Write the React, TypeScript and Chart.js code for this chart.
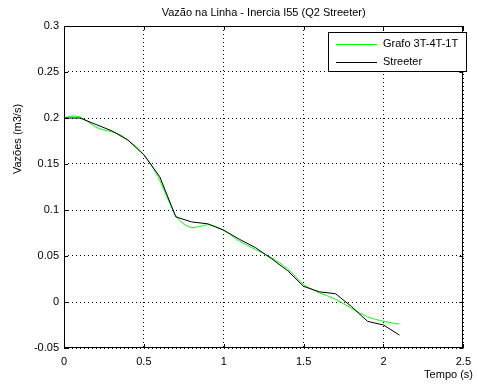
import React, { useEffect, useRef } from "react";
import { Chart, registerables } from "chart.js";

Chart.register(...registerables);

const titleText = "Vazão na Linha - Inercia I55 (Q2 Streeter)";
const xLabel = "Tempo (s)";
const yLabel = "Vazões (m3/s)";
const seriesNames = ["Grafo 3T-4T-1T", "Streeter"];

const grafoT = [0, 0.05, 0.1, 0.15, 0.2, 0.25, 0.3, 0.35, 0.4, 0.45, 0.5, 0.55, 0.6, 0.65, 0.7, 0.75, 0.8, 0.85, 0.9, 0.95, 1.0, 1.1, 1.2, 1.3, 1.4, 1.5, 1.6, 1.7, 1.8, 1.9, 2.0, 2.1];
const grafoQ = [0.2, 0.202, 0.201, 0.196, 0.19, 0.187, 0.185, 0.182, 0.176, 0.169, 0.16, 0.148, 0.132, 0.112, 0.094, 0.085, 0.081, 0.082, 0.084, 0.082, 0.078, 0.066, 0.057, 0.048, 0.036, 0.019, 0.01, 0.003, -0.007, -0.016, -0.021, -0.024];

const streeterT = [0, 0.1, 0.2, 0.3, 0.4, 0.5, 0.6, 0.7, 0.8, 0.9, 1.0, 1.1, 1.2, 1.3, 1.4, 1.5, 1.6, 1.7, 1.8, 1.9, 2.0, 2.1];
const streeterQ = [0.2, 0.2, 0.193, 0.186, 0.176, 0.16, 0.136, 0.0925, 0.087, 0.085, 0.078, 0.068, 0.059, 0.047, 0.034, 0.017, 0.011, 0.009, -0.005, -0.021, -0.025, -0.036];

const xTicks = [0, 0.5, 1, 1.5, 2, 2.5];
const yTicks = [-0.05, 0, 0.05, 0.1, 0.15, 0.2, 0.25, 0.3];

const FONT = "'Liberation Sans', Arial, sans-serif";

export default function App() {
  const ref = useRef<HTMLCanvasElement | null>(null);

  useEffect(() => {
    document.body.style.margin = "0";
    const canvas = ref.current;
    if (!canvas) return;

    const decor = {
      id: "decor",
      afterDraw(chart: any) {
        const ctx = chart.ctx;
        const a = chart.chartArea;
        const xs = chart.scales.x;
        const ys = chart.scales.y;
        ctx.save();
        // box
        ctx.strokeStyle = "#000";
        ctx.lineWidth = 1;
        ctx.setLineDash([]);
        ctx.strokeRect(Math.round(a.left) + 0.5, Math.round(a.top) + 0.5, Math.round(a.right - a.left) - 1, Math.round(a.bottom - a.top) - 1);
        // inward ticks
        ctx.beginPath();
        const tl = 4;
        for (const v of xTicks) {
          const px = Math.round(xs.getPixelForValue(v)) + 0.5;
          ctx.moveTo(px, a.bottom);
          ctx.lineTo(px, a.bottom - tl);
          ctx.moveTo(px, a.top);
          ctx.lineTo(px, a.top + tl);
        }
        for (const v of yTicks) {
          const py = Math.round(ys.getPixelForValue(v)) + 0.5;
          ctx.moveTo(a.left, py);
          ctx.lineTo(a.left + tl, py);
          ctx.moveTo(a.right, py);
          ctx.lineTo(a.right - tl, py);
        }
        ctx.stroke();
        // title
        ctx.fillStyle = "#000";
        ctx.font = `11px ${FONT}`;
        ctx.textAlign = "center";
        ctx.textBaseline = "middle";
        ctx.fillText(titleText, (a.left + a.right) / 2, 13);
        // x label
        ctx.textAlign = "right";
        ctx.fillText(xLabel, 473, 375);
        // y label
        ctx.save();
        ctx.translate(18, 139);
        ctx.rotate(-Math.PI / 2);
        ctx.textAlign = "center";
        ctx.fillText(yLabel, 0, 0);
        ctx.restore();
        // legend
        const lx = 328, ly = 32, lw = 138, lh = 39;
        ctx.fillStyle = "#fff";
        ctx.fillRect(lx, ly, lw, lh);
        ctx.strokeStyle = "#000";
        ctx.strokeRect(lx + 0.5, ly + 0.5, lw, lh);
        const rows = [
          { name: seriesNames[0], color: "#00ff00", y: 44 },
          { name: seriesNames[1], color: "#000000", y: 62 },
        ];
        for (const r of rows) {
          ctx.strokeStyle = r.color;
          ctx.beginPath();
          ctx.moveTo(336, r.y + 0.5);
          ctx.lineTo(377, r.y + 0.5);
          ctx.stroke();
          ctx.fillStyle = "#000";
          ctx.textAlign = "left";
          ctx.textBaseline = "middle";
          ctx.fillText(r.name, 383, r.y);
        }
        ctx.restore();
      },
    };

    const fmt = (v: any) => {
      const n = Number(v);
      return parseFloat(n.toFixed(2)).toString();
    };

    const chart = new Chart(canvas, {
      type: "line",
      data: {
        datasets: [
          {
            label: seriesNames[0],
            data: grafoT.map((t, i) => ({ x: t, y: grafoQ[i] })),
            borderColor: "#00ff00",
            borderWidth: 1,
            pointRadius: 0,
            cubicInterpolationMode: "monotone",
            fill: false,
            order: 1,
          },
          {
            label: seriesNames[1],
            data: streeterT.map((t, i) => ({ x: t, y: streeterQ[i] })),
            borderColor: "#000000",
            borderWidth: 1,
            pointRadius: 0,
            tension: 0,
            fill: false,
            order: 0,
          },
        ],
      },
      options: {
        responsive: false,
        animation: false,
        layout: { padding: { top: 26, right: 6, left: 0, bottom: 0 } },
        plugins: {
          legend: { display: false },
          title: { display: false },
          tooltip: { enabled: false },
        },
        scales: {
          x: {
            type: "linear",
            min: 0,
            max: 2.5,
            afterFit: (s: any) => {
              s.height = 39;
            },
            afterBuildTicks: (s: any) => {
              s.ticks = xTicks.map((v) => ({ value: v }));
            },
            ticks: {
              callback: fmt,
              font: { family: FONT, size: 11 },
              color: "#000",
              padding: 7,
              maxRotation: 0,
              autoSkip: false,
            },
            grid: { color: "#000", lineWidth: 1, drawTicks: false },
            border: { display: false, dash: [1, 3] },
          },
          y: {
            type: "linear",
            min: -0.05,
            max: 0.3,
            afterFit: (s: any) => {
              s.width = 64;
            },
            afterBuildTicks: (s: any) => {
              s.ticks = yTicks.map((v) => ({ value: v }));
            },
            ticks: {
              callback: fmt,
              font: { family: FONT, size: 11 },
              color: "#000",
              padding: 5,
              autoSkip: false,
            },
            grid: { color: "#000", lineWidth: 1, drawTicks: false },
            border: { display: false, dash: [1, 3] },
          },
        },
      },
      plugins: [decor],
    } as any);

    return () => chart.destroy();
  }, []);

  return (
    <div style={{ position: "fixed", left: 0, top: 0, width: 478, height: 387, background: "#fff" }}>
      <canvas ref={ref} width={478} height={387} style={{ width: 478, height: 387, display: "block" }} />
    </div>
  );
}
